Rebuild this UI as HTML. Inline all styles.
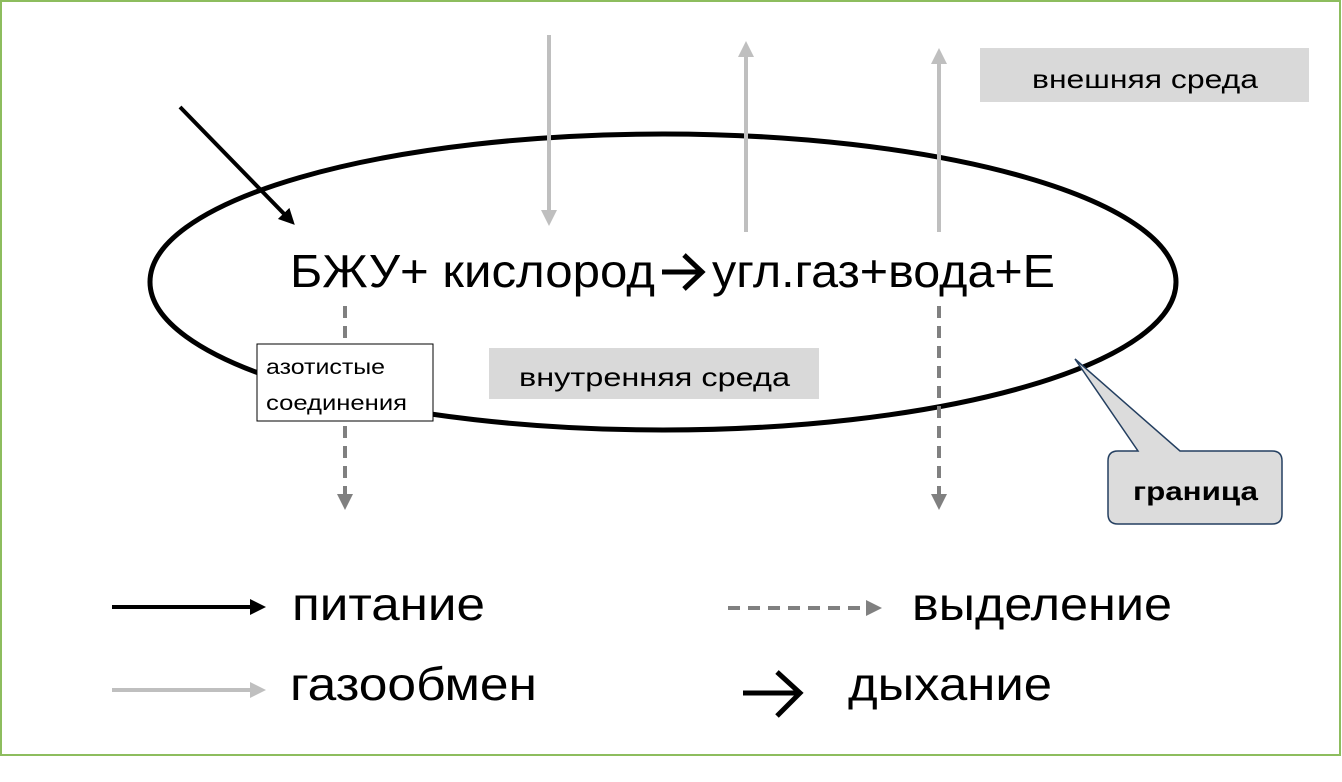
<!DOCTYPE html>
<html><head><meta charset="utf-8"><style>
body{margin:0;background:#fff}
svg{display:block}
text{font-family:"Liberation Sans","DejaVu Sans",sans-serif}
</style></head><body>
<svg width="1342" height="782" viewBox="0 0 1342 782" xmlns="http://www.w3.org/2000/svg">
<defs>
<marker id="mb" markerWidth="4" markerHeight="4" refX="3" refY="2" orient="auto" markerUnits="strokeWidth"><path d="M0,0L4,2L0,4z" fill="#000"/></marker>
<marker id="mg" markerWidth="4" markerHeight="4" refX="3" refY="2" orient="auto" markerUnits="strokeWidth"><path d="M0,0L4,2L0,4z" fill="#bfbfbf"/></marker>
<marker id="md" markerWidth="4" markerHeight="4" refX="3" refY="2" orient="auto" markerUnits="strokeWidth"><path d="M0,0L4,2L0,4z" fill="#808080"/></marker>
</defs>
<rect x="1" y="1" width="1339" height="754" fill="none" stroke="#8dbd5e" stroke-width="2"/>
<ellipse cx="663" cy="282" rx="513" ry="148" fill="none" stroke="#000" stroke-width="5"/>
<rect x="980" y="48" width="329" height="54" fill="#d9d9d9"/>
<text x="1032" y="88" font-size="26" textLength="226" lengthAdjust="spacingAndGlyphs">внешняя среда</text>
<rect x="489" y="348" width="330" height="51" fill="#d9d9d9"/>
<text x="519" y="386" font-size="26" textLength="271" lengthAdjust="spacingAndGlyphs">внутренняя среда</text>
<line x1="180" y1="107" x2="292" y2="222" stroke="#000" stroke-width="4" marker-end="url(#mb)"/>
<line x1="549" y1="35" x2="549" y2="222" stroke="#bfbfbf" stroke-width="4" marker-end="url(#mg)"/>
<line x1="746" y1="232" x2="746" y2="45" stroke="#bfbfbf" stroke-width="4" marker-end="url(#mg)"/>
<line x1="939" y1="232" x2="939" y2="52" stroke="#bfbfbf" stroke-width="4" marker-end="url(#mg)"/>
<line x1="345" y1="306" x2="345" y2="506" stroke="#808080" stroke-width="4" stroke-dasharray="12,8" marker-end="url(#md)"/>
<line x1="939" y1="306" x2="939" y2="506" stroke="#808080" stroke-width="4" stroke-dasharray="12,8" marker-end="url(#md)"/>
<rect x="257" y="344" width="176" height="77" fill="#fff" stroke="#000" stroke-width="1"/>
<text x="266" y="374" font-size="21" textLength="119" lengthAdjust="spacingAndGlyphs">азотистые</text>
<text x="266" y="410" font-size="21" textLength="141" lengthAdjust="spacingAndGlyphs">соединения</text>
<text x="290" y="287" font-size="46" textLength="365" lengthAdjust="spacingAndGlyphs">БЖУ+ кислород</text>
<path d="M662,272 L700,272 M684,255 L702,272 L684,289" fill="none" stroke="#000" stroke-width="5"/>
<text x="712" y="287" font-size="46" textLength="343" lengthAdjust="spacingAndGlyphs">угл.газ+вода+Е</text>
<path d="M1118,451 Q1108,451 1108,461 L1108,514 Q1108,524 1118,524 L1272,524 Q1282,524 1282,514 L1282,461 Q1282,451 1272,451 L1180,451 L1075,359 L1138,451 Z" fill="#dcdcdc" stroke="#243f60" stroke-width="1.5"/>
<text x="1133" y="500" font-size="26" font-weight="bold" textLength="125" lengthAdjust="spacingAndGlyphs">граница</text>
<line x1="112" y1="607" x2="262" y2="607" stroke="#000" stroke-width="4" marker-end="url(#mb)"/>
<text x="292" y="620" font-size="46" textLength="193" lengthAdjust="spacingAndGlyphs">питание</text>
<line x1="112" y1="690" x2="262" y2="690" stroke="#bfbfbf" stroke-width="4" marker-end="url(#mg)"/>
<text x="290" y="700" font-size="46" textLength="247" lengthAdjust="spacingAndGlyphs">газообмен</text>
<line x1="728" y1="608" x2="878" y2="608" stroke="#808080" stroke-width="4" stroke-dasharray="12,8" marker-end="url(#md)"/>
<text x="912" y="620" font-size="46" textLength="260" lengthAdjust="spacingAndGlyphs">выделение</text>
<path d="M743,693 L798,693 M777,672 L800,693 L777,716" fill="none" stroke="#000" stroke-width="5"/>
<text x="848" y="700" font-size="46" textLength="204" lengthAdjust="spacingAndGlyphs">дыхание</text>
</svg>
</body></html>
